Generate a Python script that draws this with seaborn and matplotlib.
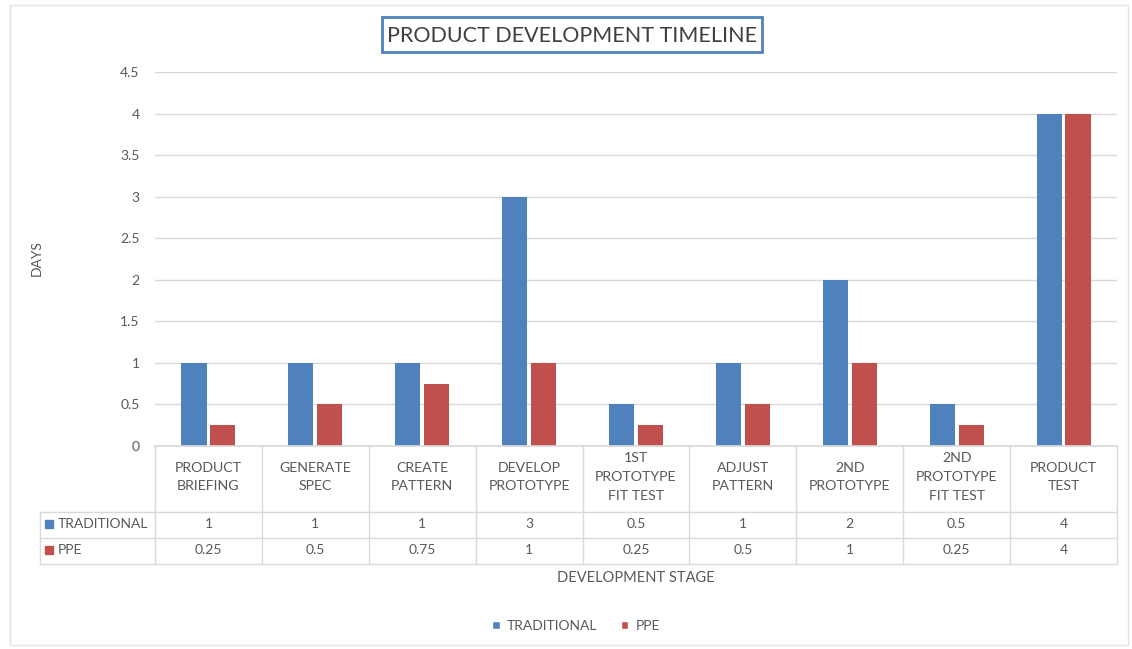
import numpy as np
import pandas as pd
import matplotlib
matplotlib.use("Agg")
import matplotlib.pyplot as plt
import matplotlib.transforms as mtransforms
from matplotlib.patches import Patch, Rectangle
from matplotlib.lines import Line2D
import seaborn as sns

# Development stages and durations (days)
stages = ["PRODUCT\nBRIEFING", "GENERATE\nSPEC", "CREATE\nPATTERN", "DEVELOP\nPROTOTYPE",
          "1ST\nPROTOTYPE\nFIT TEST", "ADJUST\nPATTERN", "2ND\nPROTOTYPE",
          "2ND\nPROTOTYPE\nFIT TEST", "PRODUCT\nTEST"]
series_names = ["TRADITIONAL", "PPE"]
traditional = [1, 1, 1, 3, 0.5, 1, 2, 0.5, 4]
ppe = [0.25, 0.5, 0.75, 1, 0.25, 0.5, 1, 0.25, 4]
y_ticks = [0, 0.5, 1, 1.5, 2, 2.5, 3, 3.5, 4, 4.5]

BLUE = "#4F81BD"
RED = "#C0504D"
TEXT = "#595959"
GRID = "#D9D9D9"

sns.set_theme(style="white")
plt.rcParams["font.family"] = ["Lato", "DejaVu Sans"]

df = pd.DataFrame({
    "stage": stages * 2,
    "series": [series_names[0]] * len(stages) + [series_names[1]] * len(stages),
    "days": traditional + ppe,
})

W, H = 1132, 649
fig = plt.figure(figsize=(W / 100, H / 100), dpi=100)
fig.patch.set_facecolor("white")

# outer chart frame
fig.add_artist(Rectangle((10 / W, 1 - 645 / H), 1118 / W, 640 / H, transform=fig.transFigure,
                         fill=False, ec="#E3E3E3", lw=1))

ax = fig.add_axes([155 / W, 203 / H, 962 / W, 374 / H])
sns.barplot(data=df, x="stage", y="days", hue="series", order=stages,
            hue_order=series_names, palette=[BLUE, RED], saturation=1,
            width=0.54, gap=0.13, legend=False, linewidth=0, ax=ax)

ax.set_ylim(0, 4.5)
ax.set_xlim(-0.5, len(stages) - 0.5)
ax.set_yticks(y_ticks)
ax.set_yticklabels([f"{v:g}" for v in y_ticks])
ax.yaxis.grid(True, color=GRID, lw=1)
ax.set_axisbelow(True)
for s in ["top", "right", "left"]:
    ax.spines[s].set_visible(False)
ax.spines["bottom"].set_color(GRID)
ax.tick_params(axis="y", length=0, pad=11, labelsize=10, labelcolor=TEXT)
ax.tick_params(axis="x", length=0, labelbottom=False)
ax.set_xlabel("")
ax.set_ylabel("DAYS", fontsize=10, color=TEXT)
ax.yaxis.set_label_coords(-0.117, 0.503)

# data table under the bars
blend = mtransforms.blended_transform_factory(ax.transData, ax.transAxes)
px = 1 / 374.0
y_head_bot = -66 * px
y_row1_bot = -92 * px
y_row2_bot = -118 * px
x_left = (40 - 155) / 962

for i in range(len(stages) + 1):
    ax.add_line(Line2D([i - 0.5, i - 0.5], [0, y_row2_bot], transform=blend,
                       color=GRID, lw=1, clip_on=False))
for yy in (y_head_bot, y_row1_bot, y_row2_bot):
    ax.add_line(Line2D([x_left, 1], [yy, yy], transform=ax.transAxes,
                       color=GRID, lw=1, clip_on=False))
ax.add_line(Line2D([x_left, x_left], [y_head_bot, y_row2_bot], transform=ax.transAxes,
                   color=GRID, lw=1, clip_on=False))

for i, name in enumerate(stages):
    ax.text(i, -31 * px, name, transform=blend, ha="center", va="center",
            fontsize=10.2, color=TEXT, linespacing=1.68, clip_on=False)
    ax.text(i, -78 * px, f"{traditional[i]:g}", transform=blend, ha="center", va="center",
            fontsize=10, color=TEXT, clip_on=False)
    ax.text(i, -104 * px, f"{ppe[i]:g}", transform=blend, ha="center", va="center",
            fontsize=10, color=TEXT, clip_on=False)

for yy, col, name in ((-78 * px, BLUE, series_names[0]), (-104 * px, RED, series_names[1])):
    ax.plot([(48.5 - 155) / 962], [yy], marker="s", ms=5.5, color=col,
            transform=ax.transAxes, clip_on=False)
    ax.text((57.5 - 155) / 962, yy, name, transform=ax.transAxes, ha="left", va="center",
            fontsize=10, color=TEXT, clip_on=False)

ax.text(0.5, -132 * px, "DEVELOPMENT STAGE", transform=ax.transAxes, ha="center",
        va="center", fontsize=10.5, color=TEXT)

# legend
handles = [Patch(facecolor=BLUE, label=series_names[0]), Patch(facecolor=RED, label=series_names[1])]
leg = fig.legend(handles=handles, loc="center", bbox_to_anchor=(576 / W, 1 - 626 / H), ncol=2,
                 frameon=False, handlelength=0.55, handleheight=0.55, handletextpad=0.5,
                 columnspacing=1.7, fontsize=10)
for t in leg.get_texts():
    t.set_color(TEXT)

# boxed title
fig.add_artist(Rectangle((382 / W, 1 - 52 / H), 380 / W, 35 / H, transform=fig.transFigure,
                         fill=False, ec=BLUE, lw=2))
fig.text(572 / W, 1 - 35.5 / H, "PRODUCT DEVELOPMENT TIMELINE", ha="center", va="center",
         fontsize=15.5, color="#404040")

fig.savefig("out.png", dpi=100, facecolor="white")
